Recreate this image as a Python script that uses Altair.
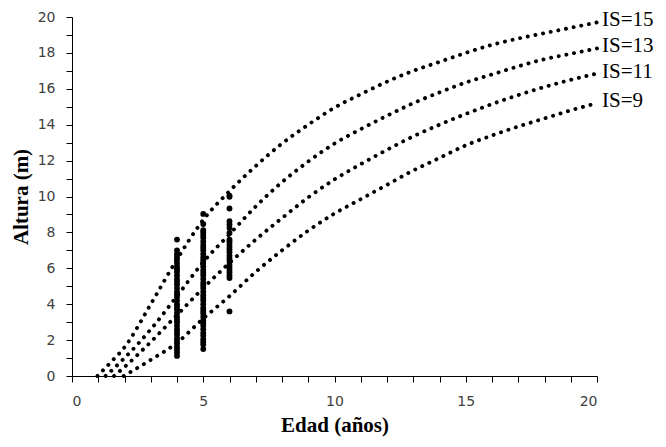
import altair as alt
import pandas as pd

# ---- Growth curves (Edad, Altura) ----
IS15_AGE = [0.97, 1.5, 2, 3, 4, 5, 6, 7, 8, 9, 10, 11, 12, 13, 14, 15, 16, 17, 18, 19, 20]
IS15_H = [0, 0.8, 1.6, 4.0, 6.5, 8.7, 10.3, 11.7, 12.95, 14.0, 14.95, 15.7, 16.4, 17.0, 17.5, 18.0, 18.45, 18.8, 19.1, 19.4, 19.7]

IS13_AGE = [1.28, 2, 3, 4, 5, 6, 7, 8, 9, 10, 11, 12, 13, 14, 15, 16, 17, 18, 19, 20]
IS13_H = [0, 1.0, 2.6, 4.45, 6.35, 7.9, 9.45, 10.8, 11.95, 12.95, 13.75, 14.5, 15.2, 15.8, 16.35, 16.8, 17.25, 17.65, 17.95, 18.25]

IS11_AGE = [1.6, 2, 3, 4, 5, 6, 7, 8, 9, 10, 11, 12, 13, 14, 15, 16, 17, 18, 19, 20]
IS11_H = [0, 0.5, 1.9, 3.4, 4.9, 6.3, 7.6, 8.8, 9.95, 10.95, 11.8, 12.6, 13.35, 14.0, 14.6, 15.15, 15.65, 16.1, 16.5, 16.85]

IS9_AGE = [1.97, 3, 4, 5, 6, 7, 8, 9, 10, 11, 12, 13, 14, 15, 16, 17, 18, 19, 20]
IS9_H = [0, 0.9, 1.85, 3.2, 4.45, 5.8, 7.0, 8.1, 9.05, 9.85, 10.65, 11.45, 12.15, 12.85, 13.4, 13.9, 14.35, 14.8, 15.2]

SERIES = ["IS=15", "IS=13", "IS=11", "IS=9"]

# ---- Observed heights by age ----
OBS_AGES = [4, 5, 6]
AGE4_H = [1.12, 1.3, 1.45, 1.6, 1.8, 1.95, 2.1, 2.3, 2.45, 2.6, 2.8, 3.0, 3.15, 3.3, 3.5, 3.7,
          3.85, 4.0, 4.2, 4.4, 4.55, 4.7, 4.9, 5.1, 5.25, 5.4, 5.6, 5.8, 5.95, 6.1, 6.3, 6.5,
          6.65, 6.8, 7.0, 7.6]
AGE5_H = [1.5, 1.75, 1.9, 2.05, 2.25, 2.4, 2.6, 2.8, 2.95, 3.1, 3.3, 3.5, 3.65, 3.8, 4.0, 4.2,
          4.35, 4.5, 4.7, 4.9, 5.05, 5.2, 5.4, 5.6, 5.75, 5.9, 6.1, 6.3, 6.45, 6.6, 6.8, 7.0,
          7.15, 7.3, 7.5, 7.7, 7.85, 8.0, 8.12, 8.47, 9.03]
AGE6_H = [3.6, 5.46, 5.6, 5.77, 5.9, 6.05, 6.2, 6.4, 6.55, 6.7, 6.9, 7.05, 7.2, 7.35, 7.5, 7.6,
          7.97, 8.25, 8.44, 8.62, 9.33, 9.98, 10.05]

X_TICKS = list(range(0, 21))
Y_TICKS = list(range(0, 21))

# ---- tables ----
curve_rows = []
for name, ages, hs in zip(SERIES, [IS15_AGE, IS13_AGE, IS11_AGE, IS9_AGE],
                          [IS15_H, IS13_H, IS11_H, IS9_H]):
    for a, h in zip(ages, hs):
        curve_rows.append({"edad": a, "altura": h, "serie": name})
curves = pd.DataFrame(curve_rows)

obs_rows = []
for a, hs in zip(OBS_AGES, [AGE4_H, AGE5_H, AGE6_H]):
    for h in hs:
        obs_rows.append({"edad": a, "altura": h})
obs = pd.DataFrame(obs_rows)

label_rows = []
for name, ages, hs in zip(SERIES, [IS15_AGE, IS13_AGE, IS11_AGE, IS9_AGE],
                          [IS15_H, IS13_H, IS11_H, IS9_H]):
    label_rows.append({"edad": ages[-1], "altura": hs[-1], "serie": name})
labels = pd.DataFrame(label_rows)

x_scale = alt.Scale(domain=[0, 20], nice=False, zero=False)
y_scale = alt.Scale(domain=[0, 20], nice=False, zero=False)

x_axis = alt.Axis(values=X_TICKS, labelExpr="datum.value % 5 === 0 ? datum.label : ''",
                  title="Edad (años)", titlePadding=6, labelPadding=12)
y_axis = alt.Axis(values=Y_TICKS, labelExpr="datum.value % 2 === 0 ? datum.label : ''",
                  title="Altura (m)", titlePadding=6, labelPadding=11)

X = alt.X("edad:Q", scale=x_scale, axis=x_axis)
Y = alt.Y("altura:Q", scale=y_scale, axis=y_axis)

lines = alt.Chart(curves).mark_line(
    interpolate="monotone", strokeDash=[0.1, 7.7], strokeCap="round",
    strokeWidth=3.9, color="black"
).encode(x=X, y=Y, detail="serie:N")

points = alt.Chart(obs).mark_circle(size=34, color="black", opacity=1).encode(x=X, y=Y)

text = alt.Chart(labels).mark_text(
    align="left", baseline="middle", dx=5, dy=-2,
    font="Liberation Serif", fontSize=21, color="black"
).encode(x=X, y=Y, text="serie:N")

chart = alt.layer(lines, points, text).properties(
    width=525, height=359,
    autosize=alt.AutoSizeParams(type="none"),
    padding={"left": 64, "top": 9, "right": 60, "bottom": 62},
    background="white",
).configure_view(stroke=None).configure_axis(
    grid=False, domainColor="black", domainWidth=1, tickColor="black", tickSize=6,
    labelFont="DejaVu Sans", labelFontSize=14, labelColor="#404040",
    titleFont="Liberation Serif", titleFontWeight="bold", titleFontSize=21,
    titleColor="black",
)

chart.save("out.html", embed_options={"renderer": "svg", "actions": False})
